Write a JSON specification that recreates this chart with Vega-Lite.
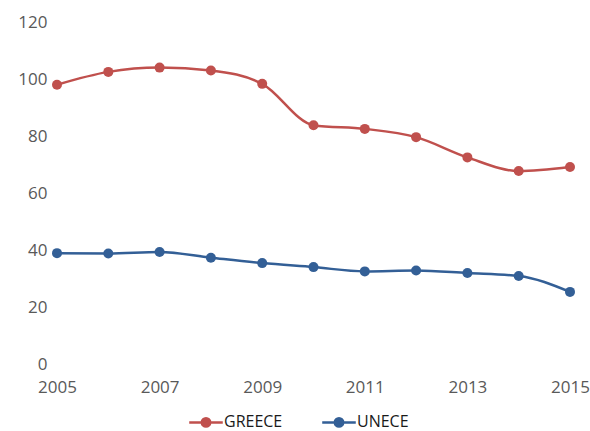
{
  "$schema": "https://vega.github.io/schema/vega-lite/v6.json",
  "autosize": "none",
  "width": 513,
  "height": 342,
  "padding": {"left": 57, "top": 22, "right": 20, "bottom": 67},
  "background": "white",
  "config": {
    "view": {"stroke": null},
    "font": "Open Sans",
    "axis": {"labelFont": "Open Sans", "labelColor": "#595959", "labelFontSize": 16, "grid": false, "domain": false, "ticks": false, "labelFlush": false}
  },
  "data": {
    "values": [
      {"year": 2005, "series": "GREECE", "value": 98.0},
      {"year": 2006, "series": "GREECE", "value": 102.5},
      {"year": 2007, "series": "GREECE", "value": 104.0},
      {"year": 2008, "series": "GREECE", "value": 103.0},
      {"year": 2009, "series": "GREECE", "value": 98.3},
      {"year": 2010, "series": "GREECE", "value": 83.8},
      {"year": 2011, "series": "GREECE", "value": 82.5},
      {"year": 2012, "series": "GREECE", "value": 79.6},
      {"year": 2013, "series": "GREECE", "value": 72.5},
      {"year": 2014, "series": "GREECE", "value": 67.7},
      {"year": 2015, "series": "GREECE", "value": 69.1},
      {"year": 2005, "series": "UNECE", "value": 38.9},
      {"year": 2006, "series": "UNECE", "value": 38.8},
      {"year": 2007, "series": "UNECE", "value": 39.3},
      {"year": 2008, "series": "UNECE", "value": 37.3},
      {"year": 2009, "series": "UNECE", "value": 35.4},
      {"year": 2010, "series": "UNECE", "value": 34.0},
      {"year": 2011, "series": "UNECE", "value": 32.5},
      {"year": 2012, "series": "UNECE", "value": 32.8},
      {"year": 2013, "series": "UNECE", "value": 31.9},
      {"year": 2014, "series": "UNECE", "value": 30.9},
      {"year": 2015, "series": "UNECE", "value": 25.3}
    ]
  },
  "encoding": {
    "x": {"field": "year", "type": "quantitative", "title": null,
          "scale": {"domain": [2005, 2015], "nice": false, "zero": false},
          "axis": {"values": [2005, 2007, 2009, 2011, 2013, 2015], "format": "d", "labelPadding": 15, "labelFontSize": 17}},
    "y": {"field": "value", "type": "quantitative", "title": null,
          "scale": {"domain": [0, 120], "nice": false},
          "axis": {"values": [0, 20, 40, 60, 80, 100, 120], "labelPadding": 10, "labelFontSize": 17}},
    "color": {"field": "series", "type": "nominal", "title": null,
              "scale": {"domain": ["GREECE", "UNECE"], "range": ["#c0504d", "#335f96"]},
              "legend": {"orient": "none", "legendX": 137, "legendY": 388, "direction": "horizontal", "labelFontSize": 16, "labelColor": "#1a1a1a", "labelFont": "Open Sans",
                         "symbolType": "M-1.6,0H1.6M-0.4,0A0.4,0.4 0 1,0 0.4,0A0.4,0.4 0 1,0 -0.4,0", "symbolSize": 440, "symbolStrokeWidth": 2.5, "columnPadding": 34, "labelOffset": 6}}
  },
  "layer": [
    {"mark": {"type": "line", "interpolate": "monotone", "strokeWidth": 2.5}},
    {"mark": {"type": "point", "filled": true, "size": 100, "opacity": 1}}
  ]
}
